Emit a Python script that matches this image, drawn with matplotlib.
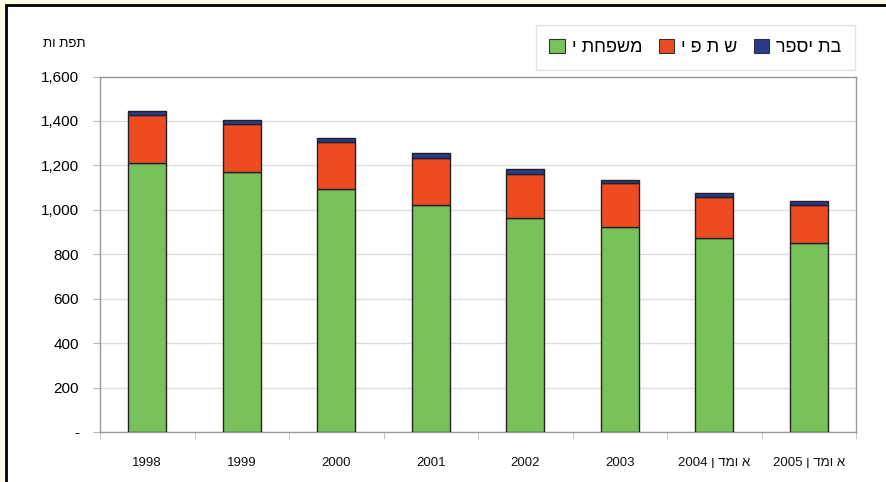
import matplotlib
matplotlib.use("Agg")
import matplotlib.pyplot as plt
from matplotlib.patches import Rectangle, Patch
from matplotlib.ticker import FuncFormatter
import numpy as np

plt.rcParams['font.family'] = ['Liberation Sans', 'DejaVu Sans']

# Hebrew strings are stored in visual (left-to-right) order, matplotlib has no bidi
years = ['1998', '1999', '2000', '2001', '2002', '2003',
         '2004 ן דמו א', '2005 ן דמו א']
family = [1210, 1172, 1095, 1022, 964, 923, 874, 851]
shared = [215, 213, 212, 210, 197, 199, 182, 169]
schools = [20, 21, 17, 23, 22, 12, 18, 21]
series_names = ['י תחפשמ', 'י פ ת ש', 'רפסי תב']
ylabel = 'תו תפת'
yticks = [0, 200, 400, 600, 800, 1000, 1200, 1400, 1600]

colors = ['#79C25A', '#EE4B23', '#2B3A8F']

fig = plt.figure(figsize=(8.86, 4.82), dpi=100)
fig.patch.set_facecolor('#FFFDE7')

# white panel with black frame on the left / top
panel = Rectangle((5.5 / 886, -0.02), 1.05, (482 - 5.5) / 482 + 0.02,
                  transform=fig.transFigure, facecolor='white',
                  edgecolor='black', linewidth=2, zorder=-1)
fig.patches.append(panel)

ax = fig.add_axes([100 / 886, 50 / 482, 756 / 886, 355.5 / 482])
ax.set_zorder(2)
ax.set_facecolor('white')

x = np.arange(len(years))
bottom = np.zeros(len(years))
for vals, c in zip([family, shared, schools], colors):
    ax.bar(x, vals, width=0.4, bottom=bottom, color=c,
           edgecolor='#222222', linewidth=1, zorder=3)
    bottom += np.array(vals)

ax.set_xlim(-0.5, len(years) - 0.5)
ax.set_ylim(0, 1600)
ax.set_yticks(yticks)
ax.yaxis.set_major_formatter(FuncFormatter(lambda v, p: '-' if v == 0 else f'{int(v):,}'))
ax.grid(axis='y', color='#DDDDDD', linewidth=1, zorder=0)

ax.set_xticks(x)
ax.set_xticklabels(years, fontsize=9.5, color='#111111')
ax.set_xticks(np.arange(-0.5, len(years)), minor=True)
ax.tick_params(axis='x', which='major', length=0, pad=18)
ax.tick_params(axis='x', which='minor', length=5, color='#BBBBBB', direction='out')
ax.tick_params(axis='y', length=5, color='#BBBBBB', labelsize=11, pad=10)
for s in ax.spines.values():
    s.set_color('#999999')
    s.set_linewidth(1)

fig.text(64 / 886, 1 - 44 / 482, ylabel, fontsize=9.5, ha='center', va='center')

handles = [Patch(facecolor=c, edgecolor='#333333', linewidth=0.8) for c in colors]
leg = fig.legend(handles, series_names, ncol=3, loc='upper right',
                 bbox_to_anchor=(855 / 886, 1 - 25 / 482),
                 fontsize=13, frameon=True, fancybox=False,
                 handlelength=0.85, handleheight=0.85, handletextpad=0.4,
                 columnspacing=0.9, borderpad=0.75, borderaxespad=0)
leg.get_frame().set_edgecolor('#DDDDDD')
leg.get_frame().set_linewidth(1)
leg.set_zorder(3)

fig.savefig('out.png', dpi=100)
